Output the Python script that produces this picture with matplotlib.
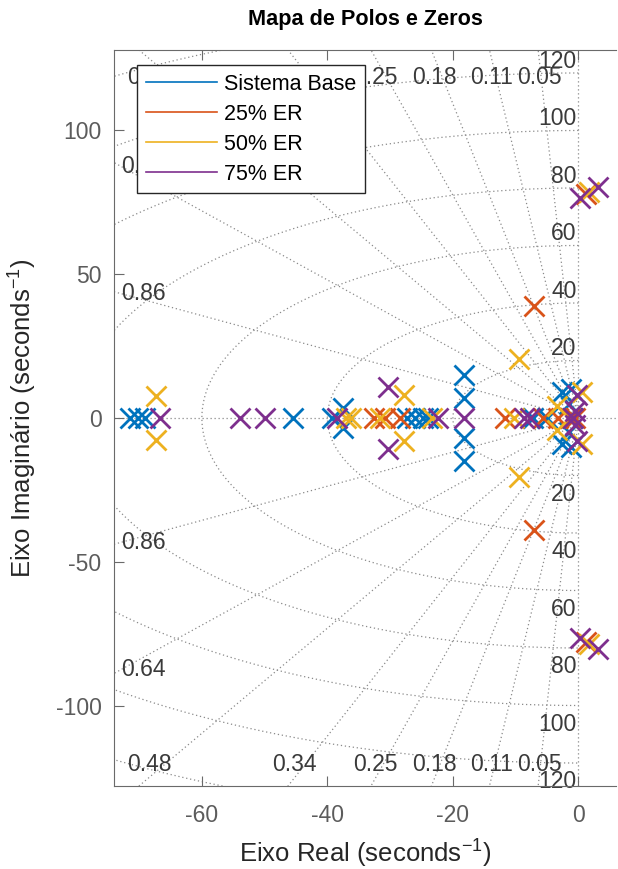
import numpy as np
import matplotlib
matplotlib.use("Agg")
import matplotlib.pyplot as plt

plt.rcParams['font.family'] = ['Liberation Sans', 'DejaVu Sans']
plt.rcParams['mathtext.fontset'] = 'custom'
plt.rcParams['mathtext.rm'] = 'Liberation Sans'
plt.rcParams['mathtext.it'] = 'Liberation Sans'
plt.rcParams['axes.unicode_minus'] = False

# polos (parte real, parte imaginaria)
base_re = [-71.4, -70.1, -69.0, -45.5, -39.3, -37.5, -37.5, -27.3, -26.0, -24.7, -23.9,
           -18.2, -18.2, -18.2, -18.2, -7.2, -5.0, -2.6, -2.6, -1.5, -1.5, -1.2, -1.2, -1.0]
base_im = [0, 0, 0, 0, 0, 3.5, -3.5, 0, 0, 0, 0,
           15.0, -15.0, 7.0, -7.0, 0, 0, 9.0, -9.0, 5.0, -5.0, 10.0, -10.0, 0]

er25_re = [-32.6, -30.8, -28.4, -11.7, -5.6, -3.2, -1.3, -0.5, -7.0, -7.0, 1.2, 1.2]
er25_im = [0, 0, 0, 0, 0, 0, 0, 0, 39.0, -39.0, 78.0, -78.0]

er50_re = [-67.3, -67.3, -37.0, -36.3, -31.6, -27.8, -27.8, -23.3, -10.3,
           -9.4, -9.4, -3.4, -3.4, 0.6, 0.6, 1.7, 1.7]
er50_im = [7.8, -7.8, 0, 0, 0, 8.0, -8.0, 0, 0,
           20.5, -20.5, 4.3, -4.3, 9.0, -9.0, 78.5, -78.5]

er75_re = [-66.6, -53.9, -49.9, -38.5, -30.4, -30.4, -22.3, -18.2, -8.7, -7.7,
           -0.8, -0.5, -0.5, -0.2, -0.2, 0.3, 0.3, 3.2, 3.2]
er75_im = [0, 0, 0, 0, 10.7, -10.7, 0, 0, 0, 0,
           0, 2.3, -2.3, 8.0, -8.0, 76.5, -76.5, 80.5, -80.5]

series = [(base_re, base_im, 'Sistema Base', '#0072BD'),
          (er25_re, er25_im, '25% ER', '#D95319'),
          (er50_re, er50_im, '50% ER', '#EDB120'),
          (er75_re, er75_im, '75% ER', '#7E2F8E')]

zetas = [0.05, 0.11, 0.18, 0.25, 0.34, 0.48, 0.64, 0.86]
wns = [20, 40, 60, 80, 100, 120]

xmin, xmax = -74, 6
ymin, ymax = -128, 128

fig = plt.figure(figsize=(6.18, 8.69), dpi=100)
ax = fig.add_axes([0.1845, 0.0955, 0.8123, 0.847])

# grade s (sgrid)
gcol = '#8a8a8a'
gls = (0, (1, 2.2))
ax.axhline(0, color=gcol, ls=gls, lw=0.9, zorder=1)
ax.axvline(0, color=gcol, ls=gls, lw=0.9, zorder=1)
for z in zetas:
    s = np.sqrt(1 - z**2)
    for sg in (1, -1):
        ax.plot([0, -200 * z], [0, sg * 200 * s], color=gcol, ls=gls, lw=0.9, zorder=1)
th = np.linspace(np.pi / 2, 3 * np.pi / 2, 400)
for w in [20, 40, 60, 80, 100, 120, 140, 160]:
    ax.plot(w * np.cos(th), w * np.sin(th), color=gcol, ls=gls, lw=0.9, zorder=1)

lcol = '#3a3a3a'
for z in zetas:
    s = np.sqrt(1 - z**2)
    xr = -125 * z / s
    for sg in (1, -1):
        if xr >= -72.8:
            ax.text(xr, sg * 119.5 - 1, '%g' % z, ha='center', va='center',
                    fontsize=16.5, color=lcol, zorder=2)
        else:
            ax.text(-72.8, sg * 72.8 * s / z, '%g' % z, ha='left', va='center',
                    fontsize=16.5, color=lcol, zorder=2)
for w in wns:
    ax.text(-0.3, w, str(w), ha='right', va='bottom', fontsize=16.5, color=lcol, zorder=2)
    ax.text(-0.3, -w - 2.5, str(w), ha='right', va='top', fontsize=16.5, color=lcol, zorder=2)

for re, im, name, c in series:
    ax.plot(re, im, 'x', color=c, ms=14, mew=2, zorder=3)
    ax.plot([], [], '-', color=c, lw=1.2, label=name)

ax.set_xlim(xmin, xmax)
ax.set_ylim(ymin, ymax)
ax.set_xticks([-60, -40, -20, 0])
ax.set_yticks([-100, -50, 0, 50, 100])
ax.tick_params(direction='in', length=7, top=True, right=False, labelsize=16.5,
               labelcolor='#5c5c5c', color='#6a6a6a')
ax.tick_params(axis='x', pad=13)
ax.tick_params(axis='y', pad=9)
for sp in ax.spines.values():
    sp.set_color('#6a6a6a')
ax.spines['right'].set_visible(False)

ax.set_title('Mapa de Polos e Zeros', fontsize=15.6, fontweight='bold', pad=18)
ax.set_xlabel(r'Eixo Real (seconds$^{-1}$)', fontsize=18.5, color='#262626', labelpad=8)
ax.set_ylabel(r'Eixo Imaginário (seconds$^{-1}$)', fontsize=18.5, color='#262626', labelpad=12)

leg = ax.legend(loc='upper left', bbox_to_anchor=(137 / 618, 1 - 65 / 869),
                bbox_transform=fig.transFigure, fontsize=15.5, fancybox=False,
                edgecolor='#262626', framealpha=1, handlelength=3.3, handletextpad=0.35,
                labelspacing=0.42, borderpad=0.4, borderaxespad=0)
leg.get_frame().set_linewidth(1.0)
leg.set_zorder(10)

fig.savefig('out.png', dpi=100)
